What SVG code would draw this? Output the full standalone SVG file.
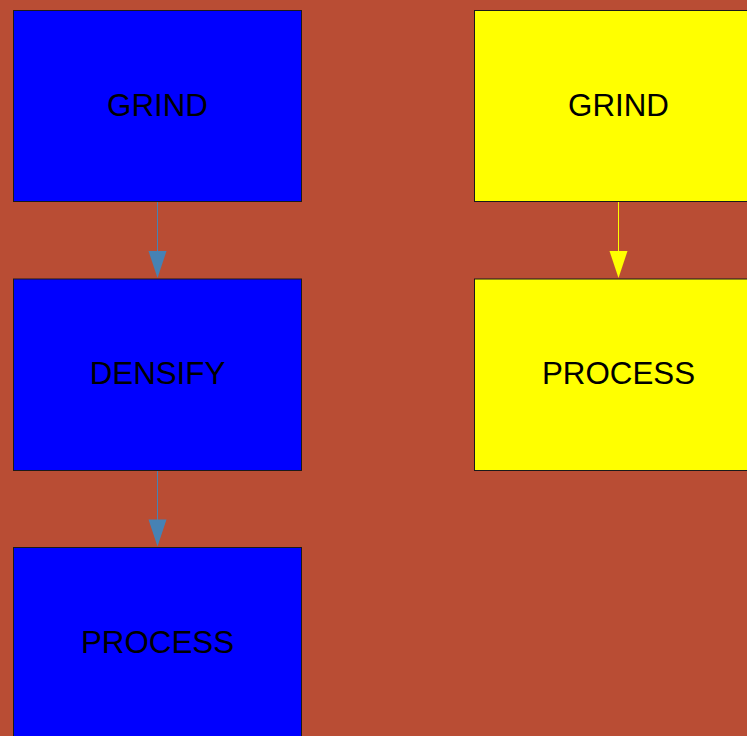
<svg xmlns="http://www.w3.org/2000/svg" width="747" height="736" viewBox="0 0 747 736">
<defs>
<style>
.node rect{stroke:#1a1a1a;stroke-width:1}
.blue rect{fill:#0000ff}
.yellow rect{fill:#ffff00}
text{font-family:"Liberation Sans",Arial,sans-serif;font-size:31.3px;fill:#000;text-anchor:middle}
.e1{stroke:#4682b4;stroke-width:1;fill:none}
.e2{stroke:#ffff00;stroke-width:1;fill:none}
</style>
<marker id="a1" markerWidth="18" markerHeight="27" refX="9" refY="27" orient="auto-start-reverse" markerUnits="userSpaceOnUse" viewBox="0 0 18 27"><path d="M0,0 L18,0 L9,27 Z" fill="#4682b4"/></marker>
</defs>
<rect width="747" height="736" fill="#b94d34"/>
<g id="nodes">
<g id="n1" class="node blue"><rect x="13.5" y="10.5" width="288" height="191"/><text x="157.5" y="116">GRIND</text></g>
<g id="n2" class="node blue"><rect x="13.5" y="279" width="288" height="191.5"/><text x="157.5" y="384">DENSIFY</text></g>
<g id="n3" class="node blue"><rect x="13.5" y="547.5" width="288" height="191"/><text x="157.5" y="653">PROCESS</text></g>
<g id="n4" class="node yellow"><rect x="474.5" y="10.5" width="288" height="191"/><text x="618.5" y="116">GRIND</text></g>
<g id="n5" class="node yellow"><rect x="474.5" y="279" width="288" height="191.5"/><text x="618.5" y="384">PROCESS</text></g>
</g>
<g id="edges">
<line class="e1" x1="157.5" y1="202" x2="157.5" y2="252"/>
<path d="M148.5,251 L166.5,251 L157.5,278 Z" fill="#4682b4"/>
<line class="e1" x1="157.5" y1="471" x2="157.5" y2="520"/>
<path d="M148.5,519.5 L166.5,519.5 L157.5,546.5 Z" fill="#4682b4"/>
<line class="e2" x1="618.5" y1="202" x2="618.5" y2="252"/>
<path d="M609.5,251 L627.5,251 L618.5,278 Z" fill="#ffff00"/>
</g>
</svg>
